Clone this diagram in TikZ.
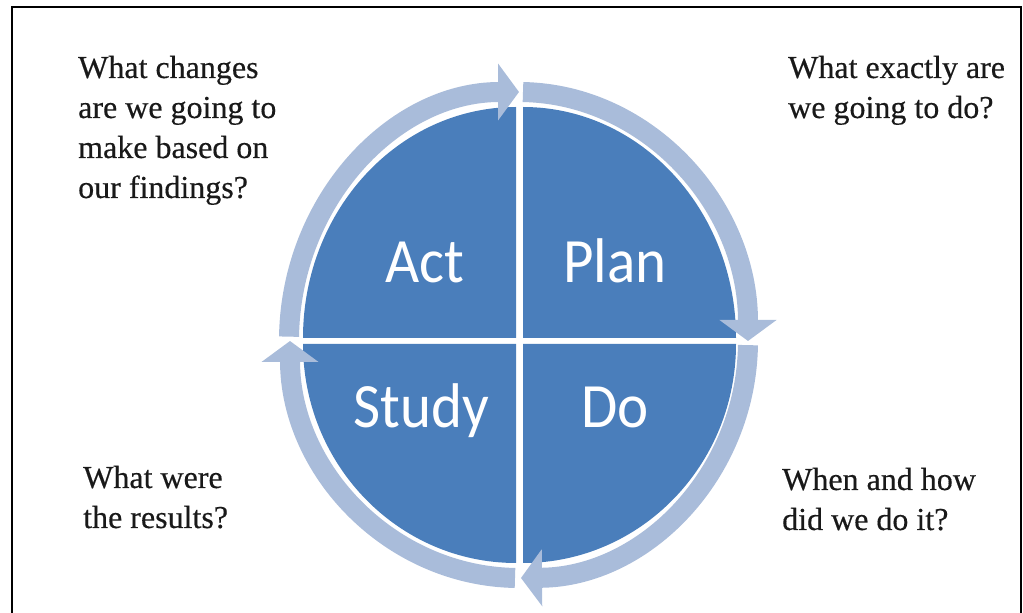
\documentclass[tikz,border=0pt]{standalone}
\usepackage{fontspec}
\setmainfont{Liberation Serif}[FakeBold=0.4]
\newfontfamily\labelfont{Carlito}
\usepackage{graphicx}
\usetikzlibrary{arrows.meta}
\definecolor{quadblue}{RGB}{74,126,187}
\definecolor{bandblue}{RGB}{169,188,218}
\definecolor{qgrey}{RGB}{25,25,25}
\begin{document}
\begin{tikzpicture}[x=1pt,y=1pt,
  quad/.style={fill=quadblue, draw=none},
  band/.style={draw=bandblue, line width=20pt, -{Triangle[width=56pt,length=21pt]}},
  lbl/.style={text=white, font=\labelfont\fontsize{59}{70}\selectfont, inner sep=0pt, anchor=base},
  qtext/.style={font=\fontsize{32}{40}\selectfont, inner sep=0pt, anchor=base west, text=qgrey}
]
\useasboundingbox (0,0) rectangle (1023,613);
\draw[line width=2.5pt] (12,0) -- (12,606) -- (1021,606) -- (1021,0);
\coordinate (c) at (519,272);
% quadrants
\fill[quad] (516,275) -- ++(-213,0) arc[start angle=180,end angle=90,x radius=213,y radius=231] -- cycle;
\fill[quad] (523,275) -- ++(0,231) arc[start angle=90,end angle=0,x radius=213,y radius=231] -- cycle;
\fill[quad] (523,269) -- ++(213,0) arc[start angle=0,end angle=-90,x radius=213,y radius=219] -- cycle;
\fill[quad] (516,269) -- ++(0,-219) arc[start angle=-90,end angle=-180,x radius=213,y radius=219] -- cycle;
% cycle arrows
\draw[band] ([shift={(179:230 and 249)}]c) arc[start angle=179,end angle=90,x radius=230,y radius=249];
\draw[band] ([shift={(89:229 and 249)}]c) arc[start angle=89,end angle=0,x radius=229,y radius=249];
\draw[band] ([shift={(-1:229 and 237)}]c) arc[start angle=-1,end angle=-89.5,x radius=229,y radius=237];
\draw[band] ([shift={(-91:229 and 237)}]c) arc[start angle=-91,end angle=-180,x radius=229,y radius=237];
% labels
\node[lbl] (act) at (425,330) {\scalebox{1}[1.07]{Act}};
\node[lbl] (plan) at (615,330) {\scalebox{1}[1.07]{Plan}};
\node[lbl] (study) at (421,185) {\scalebox{1}[1.07]{Study}};
\node[lbl] (do) at (615,185) {\scalebox{1}[1.07]{Do}};
% questions
\node[qtext] (qact) at (78,535) {\begin{tabular}[t]{@{}l@{}}What changes\\are we going to\\make based on\\our findings?\end{tabular}};
\node[qtext] (qplan) at (788,535) {\begin{tabular}[t]{@{}l@{}}What exactly are\\we going to do?\end{tabular}};
\node[qtext] (qstudy) at (83,125) {\begin{tabular}[t]{@{}l@{}}What were\\the results?\end{tabular}};
\node[qtext] (qdo) at (782,123) {\begin{tabular}[t]{@{}l@{}}When and how\\did we do it?\end{tabular}};
\end{tikzpicture}
\end{document}
